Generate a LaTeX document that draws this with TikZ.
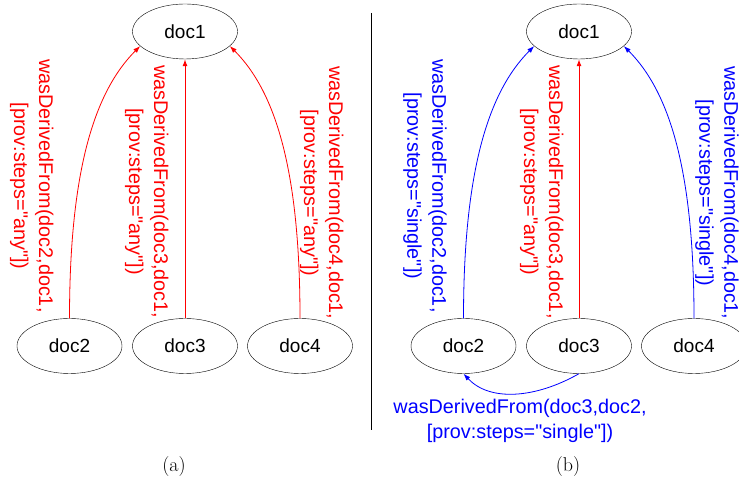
\documentclass[tikz,border=0pt]{standalone}
\usepackage{fontspec}
\newfontfamily\arialfont{Liberation Sans}
\usetikzlibrary{shapes.geometric,arrows.meta}
\newcommand{\provfont}{\arialfont\fontsize{19.8}{25}\selectfont}
\newcommand{\docfont}{\arialfont\fontsize{19}{23}\selectfont}
\tikzstyle{docnode}=[draw,ellipse,minimum width=105pt,minimum height=55pt,inner sep=0pt,font=\docfont]
\tikzstyle{anysteps}=[draw=red,line width=0.8pt,-{Latex[length=7pt,width=5pt]}]
\tikzstyle{singlesteps}=[draw=blue,line width=0.8pt,-{Latex[length=7pt,width=5pt]}]
\tikzstyle{steplabel}=[rotate=-90,align=center,inner sep=0pt,font=\provfont]
\newcommand{\docnodes}[1]{% #1 = prefix of the node names
  \node[docnode] (#1doc1) at (185,454.5) {doc1};
  \node[docnode] (#1doc2) at (69.5,140) {doc2};
  \node[docnode] (#1doc3) at (185,140) {doc3};
  \node[docnode] (#1doc4) at (300,140) {doc4};
}

\begin{document}
\begin{tikzpicture}[x=1pt,y=1pt]
	\useasboundingbox (0,0) rectangle (739,486);
	% (a): every step "any"
	\begin{scope}
	\docnodes{a}
	\draw[anysteps] (adoc2.north) .. controls +(0,150) and +(-45,-45) .. (adoc1.198);
	\draw[anysteps,line width=1pt] (adoc3.north) -- (adoc1.south);
	\draw[anysteps] (adoc4.north) .. controls +(0,150) and +(45,-45) .. (adoc1.342);
	\node[steplabel,red] (alabel2) at (31.7,300) {wasDerivedFrom(doc2,doc1,\\ {[}prov:steps="any"])};
	\node[steplabel,red] (alabel3) at (146.7,294.3) {wasDerivedFrom(doc3,doc1,\\ {[}prov:steps="any"])};
	\node[steplabel,red] (alabel4) at (321.7,293) {wasDerivedFrom(doc4,doc1,\\ {[}prov:steps="any"])};
	\node (captiona) at (174,19) {\fontsize{20}{24}\selectfont (a)};
	\end{scope}
	% separator
	\coordinate (septop) at (371.5,473);
	\coordinate (sepbot) at (371.5,56);
	\draw[line width=0.7pt] (septop) -- (sepbot);
	% (b): mixed steps
	\begin{scope}[xshift=394pt]
	\docnodes{b}
	\draw[singlesteps] (bdoc2.north) .. controls +(0,150) and +(-45,-45) .. (bdoc1.198);
	\draw[anysteps,line width=1pt] (bdoc3.north) -- (bdoc1.south);
	\draw[singlesteps] (bdoc4.north) .. controls +(0,150) and +(45,-45) .. (bdoc1.342);
	\draw[singlesteps] (bdoc3.south) .. controls +(-44,-25) and +(26,-28) .. (bdoc2.south);
	\node[steplabel,blue] (blabel2) at (31,300) {wasDerivedFrom(doc2,doc1,\\ {[}prov:steps="single"])};
	\node[steplabel,red] (blabel3) at (147.7,294) {wasDerivedFrom(doc3,doc1,\\ {[}prov:steps="any"])};
	\node[steplabel,blue] (blabel4) at (323,293) {wasDerivedFrom(doc4,doc1,\\ {[}prov:steps="single"])};
	\node[align=center,inner sep=0pt,font=\provfont,blue] (blabel32) at (126,65) {wasDerivedFrom(doc3,doc2,\\ {[}prov:steps="single"])};
	\node (captionb) at (174,19) {\fontsize{20}{24}\selectfont (b)};
	\end{scope}
\end{tikzpicture}
\end{document}
